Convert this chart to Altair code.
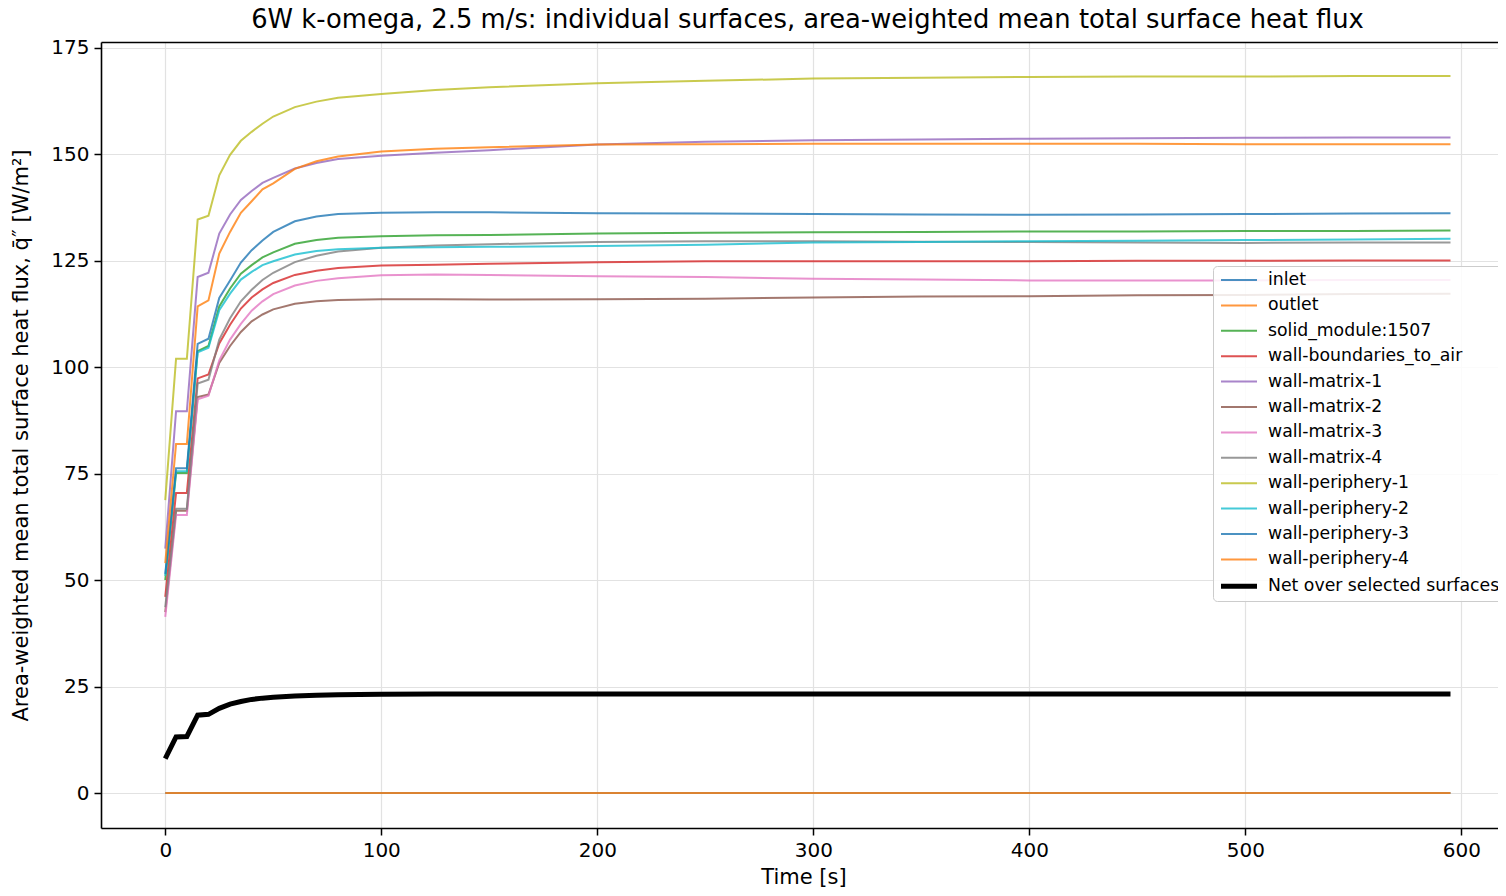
import altair as alt
import pandas as pd

TIME = [0, 5, 10, 15, 20, 25, 30, 35, 40, 45, 50, 60, 70, 80, 100, 125, 150,
        200, 250, 300, 350, 400, 450, 500, 550, 595]

SERIES = ["inlet", "outlet", "solid_module:1507", "wall-boundaries_to_air",
          "wall-matrix-1", "wall-matrix-2", "wall-matrix-3", "wall-matrix-4",
          "wall-periphery-1", "wall-periphery-2", "wall-periphery-3",
          "wall-periphery-4", "Net over selected surfaces"]

COLORS = ["#1f77b4", "#ff7f0e", "#2ca02c", "#d62728", "#9467bd", "#8c564b",
          "#e377c2", "#7f7f7f", "#bcbd22", "#17becf", "#1f77b4", "#ff7f0e",
          "#000000"]

INLET = [0.0, 0.0, 0.0, 0.0, 0.0, 0.0, 0.0, 0.0, 0.0, 0.0, 0.0, 0.0, 0.0,
         0.0, 0.0, 0.0, 0.0, 0.0, 0.0, 0.0, 0.0, 0.0, 0.0, 0.0, 0.0, 0.0]
OUTLET = [0.0, 0.0, 0.0, 0.0, 0.0, 0.0, 0.0, 0.0, 0.0, 0.0, 0.0, 0.0, 0.0,
          0.0, 0.0, 0.0, 0.0, 0.0, 0.0, 0.0, 0.0, 0.0, 0.0, 0.0, 0.0, 0.0]
SOLID_MODULE = [50.0, 75.2, 75.2, 103.8, 105.0, 114.3, 118.5, 122.0, 124.0,
                125.8, 127.0, 129.0, 129.9, 130.4, 130.8, 131.0, 131.1, 131.4,
                131.6, 131.7, 131.8, 131.9, 131.9, 132.0, 132.0, 132.1]
WALL_BOUNDARIES = [46.1, 70.5, 70.5, 97.4, 98.3, 105.6, 110.0, 113.8, 116.4,
                   118.3, 119.8, 121.7, 122.7, 123.3, 123.9, 124.1, 124.3,
                   124.7, 124.9, 124.9, 124.9, 124.9, 125.0, 125.0, 125.1,
                   125.1]
MATRIX_1 = [57.4, 89.7, 89.7, 121.2, 122.2, 131.4, 135.9, 139.3, 141.4, 143.3,
            144.5, 146.7, 148.0, 148.9, 149.7, 150.4, 151.0, 152.3, 153.0,
            153.3, 153.5, 153.7, 153.8, 153.9, 154.0, 154.0]
MATRIX_2 = [42.5, 66.3, 66.3, 93.0, 93.6, 101.0, 105.0, 108.3, 110.8, 112.4,
            113.6, 114.9, 115.5, 115.8, 116.0, 116.0, 115.9, 116.0, 116.1,
            116.4, 116.6, 116.7, 116.9, 117.0, 117.2, 117.3]
MATRIX_3 = [41.4, 65.3, 65.3, 92.5, 93.3, 101.6, 106.5, 110.2, 113.3, 115.5,
            117.2, 119.2, 120.3, 120.9, 121.6, 121.8, 121.7, 121.4, 121.2,
            120.8, 120.6, 120.4, 120.4, 120.4, 120.5, 120.5]
MATRIX_4 = [43.7, 66.8, 66.8, 96.2, 97.1, 106.5, 111.5, 115.5, 118.2, 120.5,
            122.2, 124.7, 126.2, 127.2, 128.1, 128.6, 128.9, 129.4, 129.6,
            129.6, 129.5, 129.4, 129.3, 129.2, 129.3, 129.3]
PERIPHERY_1 = [68.8, 102.0, 102.0, 134.7, 135.6, 145.1, 149.9, 153.2, 155.3,
               157.2, 158.9, 161.1, 162.4, 163.3, 164.2, 165.1, 165.8, 166.7,
               167.3, 167.8, 168.0, 168.2, 168.3, 168.3, 168.4, 168.4]
PERIPHERY_2 = [51.0, 75.6, 75.6, 103.5, 104.6, 113.4, 117.3, 120.6, 122.4,
               124.0, 124.9, 126.5, 127.3, 127.7, 128.1, 128.2, 128.3, 128.5,
               128.8, 129.3, 129.4, 129.6, 129.7, 129.9, 130.0, 130.2]
PERIPHERY_3 = [51.5, 76.3, 76.3, 105.5, 106.7, 116.3, 120.4, 124.6, 127.5,
               129.8, 131.8, 134.3, 135.4, 136.0, 136.3, 136.4, 136.4, 136.2,
               136.1, 136.0, 135.9, 135.8, 135.9, 136.0, 136.1, 136.2]
PERIPHERY_4 = [54.0, 82.0, 82.0, 114.3, 115.7, 126.7, 131.8, 136.3, 139.0,
               141.8, 143.2, 146.6, 148.4, 149.5, 150.7, 151.3, 151.7, 152.3,
               152.4, 152.5, 152.5, 152.5, 152.5, 152.4, 152.4, 152.4]
NET = [8.1, 13.2, 13.3, 18.3, 18.5, 19.9, 20.9, 21.5, 22.0, 22.3, 22.5, 22.8,
       23.0, 23.1, 23.2, 23.25, 23.3, 23.3, 23.3, 23.3, 23.3, 23.3, 23.3, 23.3,
       23.3, 23.3]

VALUES = [INLET, OUTLET, SOLID_MODULE, WALL_BOUNDARIES, MATRIX_1, MATRIX_2,
          MATRIX_3, MATRIX_4, PERIPHERY_1, PERIPHERY_2, PERIPHERY_3,
          PERIPHERY_4, NET]

WIDTHS = [2, 2, 2, 2, 2, 2, 2, 2, 2, 2, 2, 2, 5]
OPACITIES = [0.8, 0.8, 0.8, 0.8, 0.8, 0.8, 0.8, 0.8, 0.8, 0.8, 0.8, 0.8, 1.0]

rows = []
for name, vals in zip(SERIES, VALUES):
    for t, v in zip(TIME, vals):
        rows.append({"time": t, "flux": v, "series": name})
df = pd.DataFrame(rows)

FONT = "DejaVu Sans"
X_SCALE = alt.Scale(domain=[-29.75, 620.7], nice=False, zero=False)
Y_SCALE = alt.Scale(domain=[-8.2, 176.4], nice=False, zero=False)
Y_AXIS = alt.Axis(values=[0, 25, 50, 75, 100, 125, 150, 175],
                  title="Area-weighted mean total surface heat flux, q̄″ [W/m²]",
                  format="d")

legend = alt.Legend(
    title=None, orient="none", legendX=1112, legendY=224,
    symbolType="M-2,0H2", symbolSize=324, symbolOffset=10.5,
    labelFont=FONT, labelFontSize=17.3, labelColor="black", labelLimit=400,
    labelOffset=17.5, rowPadding=6.4, padding=4, strokeColor="#cccccc",
    fillColor="rgba(255,255,255,0.85)", cornerRadius=4,
)

lines = alt.Chart(df).mark_line(clip=True).encode(
    x=alt.X("time:Q", scale=X_SCALE,
            axis=alt.Axis(values=[0, 100, 200, 300, 400, 500, 600],
                          title="Time [s]", format="d", orient="bottom")),
    y=alt.Y("flux:Q", scale=Y_SCALE, axis=Y_AXIS),
    color=alt.Color("series:N", scale=alt.Scale(domain=SERIES, range=COLORS),
                    legend=legend),
    strokeWidth=alt.StrokeWidth("series:N",
                                scale=alt.Scale(type="ordinal", domain=SERIES,
                                                range=WIDTHS),
                                legend=legend),
    opacity=alt.Opacity("series:N",
                        scale=alt.Scale(type="ordinal", domain=SERIES,
                                        range=OPACITIES),
                        legend=legend),
    order=alt.Order("time:Q"),
)

# invisible layer that only contributes the top spine (matplotlib frame)
top_spine = alt.Chart(df).mark_point(opacity=0).encode(
    x=alt.X("time:Q", scale=X_SCALE,
            axis=alt.Axis(orient="top", labels=False, ticks=False,
                          grid=False, title=None, domain=True)),
    y=alt.Y("flux:Q", scale=Y_SCALE, axis=Y_AXIS),
)

chart = alt.layer(lines, top_spine).resolve_axis(
    x="independent"
).properties(
    width=1405,
    height=786,
    title=alt.TitleParams(
        "6W k-omega, 2.5 m/s: individual surfaces, area-weighted mean total surface heat flux",
        font=FONT, fontSize=25.8, fontWeight="normal", color="black",
        anchor="middle", offset=2, dx=4, dy=-2),
    autosize=alt.AutoSizeParams(type="none"),
    padding={"left": 93, "top": 34, "right": -8, "bottom": 60},
).configure_view(
    strokeWidth=0
).configure_axis(
    labelFont=FONT, labelFontSize=20, labelColor="black",
    titleFont=FONT, titleFontSize=21, titleFontWeight="normal",
    titleColor="black", domainColor="black", domainWidth=1.6,
    tickColor="black", tickWidth=1.5, tickSize=7, labelPadding=5,
    gridColor="#e2e2e2", gridWidth=1.2,
).configure_axisX(
    titlePadding=6
).configure_axisY(
    titlePadding=19
)

chart.save("out.html", embed_options={"renderer": "svg", "actions": False})
